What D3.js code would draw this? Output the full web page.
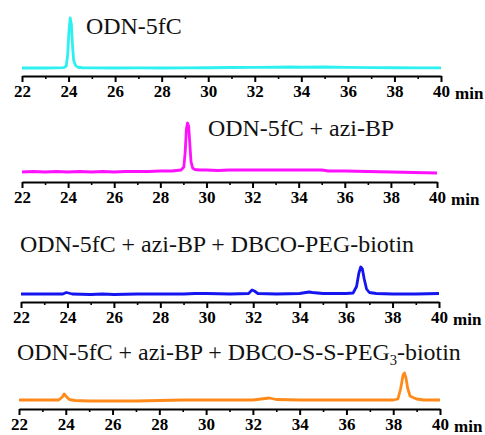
<!DOCTYPE html>
<html><head><meta charset="utf-8">
<script src="https://cdn.jsdelivr.net/npm/d3@7"></script>
<style>
  #chart text { font-family: 'Liberation Serif', 'Times New Roman', serif; }
</style>
</head><body style="margin:0">
<svg id="chart" width="485" height="435" style="display:block">
<text x="470" y="6" fill="#fff" style="font-family:'Liberation Serif';font-size:4px">O</text>
<text x="476" y="6" fill="#fff" style="font-family:'Liberation Serif';font-weight:bold;font-size:4px">2</text>
</svg>
<script>
// ---- Data ----
const majorTicks = [22, 24, 26, 28, 30, 32, 34, 36, 38, 40];
const minorTicks = [23, 25, 27, 29, 31, 33, 35, 37, 39];
const axisUnit = "min";

const titles = [
  "ODN-5fC",
  "ODN-5fC + azi-BP",
  "ODN-5fC + azi-BP + DBCO-PEG-biotin",
  "ODN-5fC + azi-BP + DBCO-S-S-PEG|3|-biotin"
];
const colors = ["#2ff0f0", "#ff10ff", "#1515f0", "#ff8a1a"];

const trace1 = [[22,0],[22.5,0.3],[23,0],[23.5,0.4],[23.8,0.6],[23.9,4],[23.96,25],[24.02,75],[24.07,100],[24.12,88],[24.17,45],[24.22,15],[24.3,5],[24.4,1.5],[24.6,0.5],[25,0.3],[26,0],[27,0.2],[28,0],[29,0.3],[30,0.5],[31,1],[32,1.2],[33,1.5],[33.5,2],[34,1.5],[35,2],[35.5,1.5],[36,1.2],[37,0.8],[38,0.5],[39,0.3],[40,0.2]];
const trace2 = [[22,4],[22.5,5],[23,4],[23.5,5],[24,4],[24.5,5],[25,4],[25.5,5],[26,4],[26.5,5],[27,5],[27.5,5],[28,6],[28.5,6],[28.9,8],[29.02,14],[29.08,45],[29.13,90],[29.18,102],[29.23,95],[29.28,60],[29.33,25],[29.4,12],[29.5,9],[29.7,8],[30,8],[30.5,7],[31,8],[32,8],[33,8],[34,8],[35,8],[35.3,6],[36,6],[37,5],[38,4],[39,3],[40,2]];
const trace3 = [[22,0],[23,0],[23.8,0],[23.95,3],[24.05,2],[24.2,0],[25,-1],[25.5,0],[26,-1],[27,0],[28,0],[29,0],[29.5,1],[30,1],[31,0],[31.8,1],[31.95,8],[32.05,6],[32.2,1],[33,0],[34,1],[34.4,4],[34.55,3],[35,1],[36,1],[36.3,2],[36.45,15],[36.55,42],[36.63,54],[36.7,50],[36.78,30],[36.88,10],[37,3],[37.3,1],[38,0],[39,0],[40,1]];
const trace4 = [[22,2],[23,2],[23.7,2],[23.85,8],[23.93,14],[24.02,9],[24.15,3],[24.4,1],[25,0],[26,0],[27,0],[28,1],[29,2],[30,2],[31,2],[32,2],[32.7,6],[33,3],[34,2],[35,2],[36,2],[37,2],[38,2],[38.2,4],[38.32,25],[38.42,52],[38.48,56],[38.55,45],[38.62,25],[38.72,10],[38.85,7],[39,4],[39.3,2],[40,2]];
const traces = [trace1, trace2, trace3, trace4];

// ---- Layout ----
const FONT = "Liberation Serif";
const panels = [
  { x0: 22, x1: 441, axisY: 76,  tx: 86, ty: 34 },
  { x0: 22, x1: 437, axisY: 182, tx: 208, ty: 136 },
  { x0: 21, x1: 439, axisY: 302, tx: 20, ty: 252 },
  { x0: 19, x1: 440, axisY: 409, tx: 17, ty: 360 }
];

const svg = d3.select("#chart");

panels.forEach((p, i) => {
  const x = d3.scaleLinear().domain([22, 40]).range([p.x0, p.x1]);
  const y = d3.scaleLinear().domain([-16, 100]).range([p.axisY, p.axisY - 58]);
  const g = svg.append("g");

  // trace
  g.append("path")
    .datum(traces[i])
    .attr("fill", "none")
    .attr("stroke", colors[i])
    .attr("stroke-width", 2.8)
    .attr("stroke-linejoin", "round")
    .attr("d", d3.line().x(d => x(d[0])).y(d => y(d[1])));

  // minor ticks
  const minorAxis = d3.axisBottom(x).tickValues(minorTicks).tickSize(3).tickFormat("");
  const ga = g.append("g").attr("transform", `translate(0,${p.axisY})`).call(minorAxis);
  ga.select(".domain").remove();
  ga.selectAll(".tick line").attr("stroke", "#000").attr("stroke-width", 1.6);

  // major axis
  const majorAxis = d3.axisBottom(x).tickValues(majorTicks).tickSize(6).tickSizeOuter(0).tickPadding(3);
  const gm = g.append("g").attr("transform", `translate(0,${p.axisY})`).call(majorAxis);
  gm.attr("font-family", FONT).attr("font-size", 17).attr("font-weight", "bold");
  gm.select(".domain").attr("stroke", "#000").attr("stroke-width", 2);
  gm.selectAll(".tick line").attr("stroke", "#000").attr("stroke-width", 2);
  gm.selectAll(".tick text")
    .attr("fill", "#000")
    .attr("font-family", FONT)
    .attr("font-weight", "bold")
    .attr("font-size", 17);

  // unit
  g.append("text")
    .attr("x", x(40) + 14)
    .attr("y", p.axisY + 23)
    .attr("font-family", FONT)
    .attr("font-weight", "bold")
    .attr("font-size", 17)
    .text(axisUnit);

  // title
  const t = g.append("text")
    .attr("transform", `translate(${p.tx},${p.ty}) scale(1.04,1)`)
    .attr("font-family", FONT)
    .attr("font-size", 23)
    .attr("fill", "#111");
  const parts = titles[i].split("|");
  parts.forEach((s, k) => {
    const sp = t.append("tspan").text(s);
    if (k % 2 === 1) {
      sp.attr("dy", 5).attr("font-size", 14);
    } else if (k > 0) {
      sp.attr("dy", -5);
    }
  });
});
</script>
</body></html>
